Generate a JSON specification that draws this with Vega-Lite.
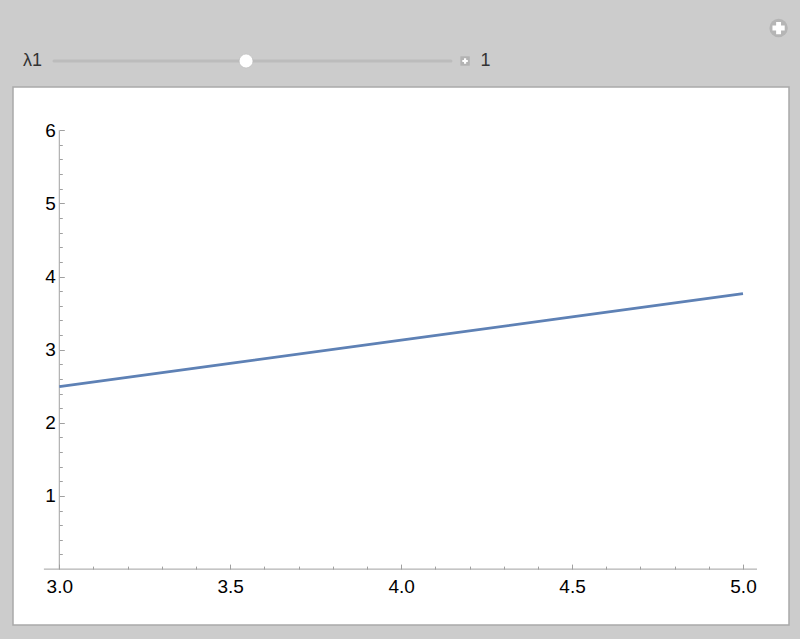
{
  "$schema": "https://vega.github.io/schema/vega-lite/v6.json",
  "background": "#cccccc",
  "padding": {"left": 12, "right": 12, "top": 0, "bottom": 15},
  "spacing": 0,
  "config": {"view": {"stroke": null}, "font": "Liberation Sans"},
  "vconcat": [
    {
      "width": 776,
      "height": 86,
      "data": {"values": [
        {"kind": "track", "v": 0, "v2": 2.046, "row": 1},
        {"kind": "knob", "v": 0.99, "row": 1},
        {"kind": "label", "v": -0.16, "row": 1, "text": "λ1"},
        {"kind": "value", "v": 2.198, "row": 1, "text": "1"},
        {"kind": "box", "v": 2.119, "row": 1},
        {"kind": "icon", "v": 3.735, "row": 1.97}
      ]},
      "encoding": {
        "x": {"field": "v", "type": "quantitative", "scale": {"domain": [-0.2113, 3.7887], "nice": false, "zero": false}, "axis": null},
        "y": {"field": "row", "type": "quantitative", "scale": {"domain": [0.2647, 2.7941], "nice": false, "zero": false}, "axis": null}
      },
      "layer": [
        {"transform": [{"filter": "datum.kind === 'track'"}], "mark": {"type": "rule", "color": "#bcbcbc", "strokeWidth": 3, "strokeCap": "round"}, "encoding": {"x2": {"field": "v2"}}},
        {"transform": [{"filter": "datum.kind === 'knob'"}], "mark": {"type": "point", "filled": true, "fill": "#ffffff", "opacity": 1, "size": 190, "stroke": "#b5b5b5", "strokeWidth": 0.5}},
        {"transform": [{"filter": "datum.kind === 'box'"}], "mark": {"type": "point", "shape": "square", "filled": true, "fill": "#b3b3b3", "opacity": 1, "size": 88}},
        {"transform": [{"filter": "datum.kind === 'box'"}], "mark": {"type": "point", "shape": "cross", "filled": true, "fill": "#ffffff", "opacity": 1, "size": 30}},
        {"transform": [{"filter": "datum.kind === 'icon'"}], "mark": {"type": "point", "shape": "circle", "filled": true, "fill": "#b5b5b5", "opacity": 1, "size": 340}},
        {"transform": [{"filter": "datum.kind === 'icon'"}], "mark": {"type": "point", "shape": "cross", "filled": true, "fill": "#ffffff", "opacity": 1, "size": 150}},
        {"transform": [{"filter": "datum.kind === 'label' || datum.kind === 'value'"}], "mark": {"type": "text", "align": "left", "baseline": "middle", "fontSize": 18, "color": "#333333", "font": "Liberation Sans"}, "encoding": {"text": {"field": "text"}}}
      ]
    },
    {
      "width": 776,
      "height": 538,
      "view": {"fill": "#ffffff", "stroke": "#a9a9a9", "strokeWidth": 1.5},
      "resolve": {"axis": {"x": "independent", "y": "independent"}},
      "layer": [
        {
          "data": {"values": [
            {"x": 2.955, "x2": 5.041, "y": 0, "y2": 0},
            {"x": 3, "x2": 3, "y": 0, "y2": 6}
          ]},
          "mark": {"type": "rule", "color": "#a0a0a0", "strokeWidth": 1},
          "encoding": {
            "x": {"field": "x", "type": "quantitative", "scale": {"domain": [2.8646, 5.1346], "nice": false, "zero": false},
              "axis": {"orient": "bottom", "offset": -55.9, "values": [3.1, 3.2, 3.3, 3.4, 3.6, 3.7, 3.8, 3.9, 4.1, 4.2, 4.3, 4.4, 4.6, 4.7, 4.8, 4.9], "labels": false, "domain": false, "grid": false, "tickSize": -3, "tickColor": "#a0a0a0", "title": null}},
            "x2": {"field": "x2"},
            "y": {"field": "y", "type": "quantitative", "scale": {"domain": [-0.764, 6.591], "nice": false, "zero": false},
              "axis": {"orient": "left", "offset": -46.3, "values": [0.2, 0.4, 0.6, 0.8, 1.2, 1.4, 1.6, 1.8, 2.2, 2.4, 2.6, 2.8, 3.2, 3.4, 3.6, 3.8, 4.2, 4.4, 4.6, 4.8, 5.2, 5.4, 5.6, 5.8], "labels": false, "domain": false, "grid": false, "tickSize": -3, "tickColor": "#a0a0a0", "title": null}},
            "y2": {"field": "y2"}
          }
        },
        {
          "data": {"values": [
            {"x": 3.0, "y": 2.494},
            {"x": 3.5, "y": 2.812},
            {"x": 4.0, "y": 3.130},
            {"x": 4.5, "y": 3.448},
            {"x": 5.0, "y": 3.766}
          ]},
          "mark": {"type": "line", "color": "#5e81b5", "strokeWidth": 2.8},
          "encoding": {
            "x": {"field": "x", "type": "quantitative", "scale": {"domain": [2.8646, 5.1346], "nice": false, "zero": false},
              "axis": {"orient": "bottom", "offset": -55.9, "values": [3, 3.5, 4, 4.5, 5], "format": ".1f", "domain": false, "grid": false, "tickSize": -5, "tickColor": "#a0a0a0", "labelPadding": 13.6, "labelFontSize": 19, "labelColor": "#000000", "labelFont": "Liberation Sans", "labelFlush": false, "labelOverlap": false, "title": null}},
            "y": {"field": "y", "type": "quantitative", "scale": {"domain": [-0.764, 6.591], "nice": false, "zero": false},
              "axis": {"orient": "left", "offset": -46.3, "values": [1, 2, 3, 4, 5, 6], "format": "d", "domain": false, "grid": false, "tickSize": -5, "tickColor": "#a0a0a0", "labelPadding": 9, "labelFontSize": 19, "labelColor": "#000000", "labelFont": "Liberation Sans", "labelFlush": false, "labelOverlap": false, "title": null}}
          }
        }
      ]
    }
  ]
}
